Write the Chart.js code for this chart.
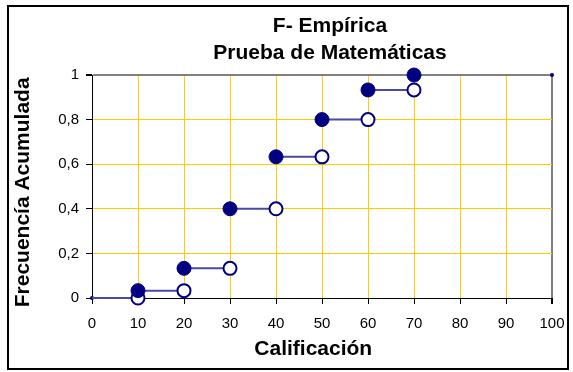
<!DOCTYPE html>
<html>
<head>
<meta charset="utf-8">
<script src="https://cdn.jsdelivr.net/npm/chart.js@4"></script>
<style>
    body { margin: 0; background: #fff; }
    #marco {
        position: absolute; left: 7px; top: 5px;
        width: 558px; height: 361px;
        border: 2px solid #000;
    }
    canvas { display: block; }
</style>
</head>
<body>
<div id="marco"><canvas id="grafico" width="558" height="361"></canvas></div>
<script>
// datos
const calificaciones = [0, 10, 20, 30, 40, 50, 60, 70];
const frecAcumulada = [0, 0.033, 0.133, 0.4, 0.633, 0.8, 0.933, 1];
const extremosX = [0, 100];
const extremosY = [0, 1];
const xTicks = [0, 10, 20, 30, 40, 50, 60, 70, 80, 90, 100];
const yTickLabels = ['0', '0,2', '0,4', '0,6', '0,8', '1'];
const titulo = ['F- Empírica', 'Prueba de Matemáticas'];

const azul = '#000080';
const fuente = '"Liberation Sans", Arial, sans-serif';

// puntos llenos: F(x) en cada salto, puntos vacios: valor anterior
const llenos = [];
const vacios = [];
for (let i = 1; i < calificaciones.length; i++) {
    llenos.push({ x: calificaciones[i], y: frecAcumulada[i] });
    vacios.push({ x: calificaciones[i], y: frecAcumulada[i - 1] });
}

// escalones horizontales
const escalones = [];
for (let i = 0; i < calificaciones.length - 1; i++) {
    escalones.push({ x: calificaciones[i], y: frecAcumulada[i] });
    escalones.push({ x: calificaciones[i + 1], y: frecAcumulada[i] });
    escalones.push({ x: calificaciones[i + 1], y: null });
}

const extremos = extremosX.map((x, i) => ({ x: x, y: extremosY[i] }));

const tituloPlugin = {
    id: 'tituloExcel',
    afterDraw(chart) {
        const ctx = chart.ctx;
        const ca = chart.chartArea;
        ctx.save();
        ctx.fillStyle = '#000';
        ctx.font = 'bold 21px ' + fuente;
        ctx.textAlign = 'center';
        ctx.textBaseline = 'alphabetic';
        const cx = (ca.left + ca.right) / 2 + 8;
        ctx.fillText(titulo[0], cx, 25);
        ctx.fillText(titulo[1], cx, 52);
        ctx.restore();
    }
};

new Chart(document.getElementById('grafico'), {
    type: 'scatter',
    data: {
        datasets: [
            {
                label: 'llenos',
                data: llenos,
                pointRadius: 7,
                pointBackgroundColor: azul,
                pointBorderColor: azul,
                pointBorderWidth: 1,
                clip: false,
                order: 0
            },
            {
                label: 'vacios',
                data: vacios,
                pointRadius: 6.5,
                pointBackgroundColor: '#fff',
                pointBorderColor: azul,
                pointBorderWidth: 2,
                clip: false,
                order: 1
            },
            {
                label: 'escalones',
                data: escalones,
                showLine: true,
                spanGaps: false,
                borderColor: '#4a4aa6',
                borderWidth: 2,
                pointRadius: 0,
                clip: false,
                order: 2
            },
            {
                label: 'extremos',
                data: extremos,
                pointRadius: 2,
                pointBackgroundColor: azul,
                pointBorderColor: azul,
                pointBorderWidth: 0,
                clip: false,
                order: 3
            }
        ]
    },
    options: {
        responsive: false,
        animation: false,
        devicePixelRatio: 1,
        layout: { padding: { top: 68, right: 15, left: 0, bottom: 0 } },
        plugins: {
            legend: { display: false },
            tooltip: { enabled: false }
        },
        scales: {
            x: {
                type: 'linear',
                min: 0,
                max: 100,
                afterBuildTicks: (scale) => { scale.ticks = xTicks.map(v => ({ value: v })); },
                afterFit: (scale) => {
                    scale.height = 70;
                    scale.paddingLeft = 0;
                    scale.paddingRight = 0;
                },
                ticks: {
                    color: '#000',
                    padding: 11,
                    maxRotation: 0,
                    font: { family: fuente, size: 15 }
                },
                grid: {
                    color: (c) => c.tick && c.tick.value === 100 ? '#808080' : '#FFCC00',
                    lineWidth: (c) => c.tick && c.tick.value === 100 ? 2 : 1,
                    tickColor: '#000',
                    tickLength: 6
                },
                border: { color: '#000', width: 1 },
                title: {
                    display: true,
                    // espacios finales: el titulo de Excel queda corrido a la izquierda
                    text: 'Calificación   ',
                    color: '#000',
                    padding: { top: 0, bottom: 6 },
                    font: { family: fuente, size: 21, weight: 'bold' }
                }
            },
            y: {
                type: 'linear',
                min: 0,
                max: 1,
                afterBuildTicks: (scale) => {
                    scale.ticks = yTickLabels.map((t, i) => ({ value: i / (yTickLabels.length - 1) }));
                },
                afterFit: (scale) => {
                    scale.width = 83;
                    scale.paddingTop = 0;
                    scale.paddingBottom = 0;
                },
                ticks: {
                    color: '#000',
                    padding: 7,
                    callback: (v, i) => yTickLabels[i],
                    font: { family: fuente, size: 15 }
                },
                grid: {
                    color: (c) => c.tick && c.tick.value === 1 ? '#808080' : '#FFCC00',
                    lineWidth: (c) => c.tick && c.tick.value === 1 ? 2 : 1,
                    tickColor: '#000',
                    tickLength: 6
                },
                border: { color: '#000', width: 1 },
                title: {
                    display: true,
                    text: 'Frecuencía Acumulada  ',
                    color: '#000',
                    padding: { top: 2, bottom: 0 },
                    font: { family: fuente, size: 21, weight: 'bold' }
                }
            }
        }
    },
    plugins: [tituloPlugin]
});
</script>
</body>
</html>
